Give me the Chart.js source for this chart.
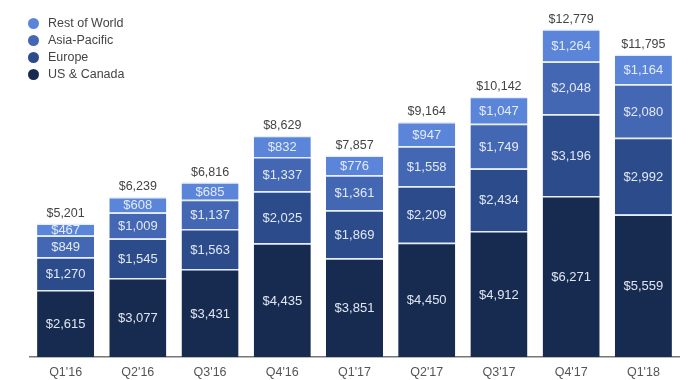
<!DOCTYPE html>
<html>
<head>
<meta charset="utf-8">
<script src="https://cdn.jsdelivr.net/npm/chart.js@4"></script>
<style>
html,body{margin:0;padding:0;background:#fff;}
#wrap{position:relative;width:700px;height:380px;}
#legend{position:absolute;left:28px;top:15px;font-family:"Liberation Sans",Arial,sans-serif;font-size:12.5px;color:#444;}
#legend div{height:17px;line-height:17px;display:flex;align-items:center;}
#legend span.dot{display:inline-block;width:11px;height:11px;border-radius:50%;margin-right:9px;}
</style>
</head>
<body>
<div id="wrap">
<canvas id="c" width="700" height="380"></canvas>
<div id="legend"></div>
</div>
<script>
const categories = ["Q1'16","Q2'16","Q3'16","Q4'16","Q1'17","Q2'17","Q3'17","Q4'17","Q1'18"];
const usCanada    = [2615, 3077, 3431, 4435, 3851, 4450, 4912, 6271, 5559];
const europe      = [1270, 1545, 1563, 2025, 1869, 2209, 2434, 3196, 2992];
const asiaPacific = [849, 1009, 1137, 1337, 1361, 1558, 1749, 2048, 2080];
const restOfWorld = [467, 608, 685, 832, 776, 947, 1047, 1264, 1164];
const totals      = [5201, 6239, 6816, 8629, 7857, 9164, 10142, 12779, 11795];
const seriesNames = ["US & Canada","Europe","Asia-Pacific","Rest of World"];
const colors = ["#172a50","#2b4b8a","#4467b3","#5b85d9"];

const fmt = v => "$" + v.toLocaleString("en-US");

const seriesData = [usCanada, europe, asiaPacific, restOfWorld];
const datasets = seriesData.map((d,i)=>({
  label: seriesNames[i],
  data: d,
  backgroundColor: colors[i],
  borderColor: "rgba(225,235,250,0.9)",
  borderWidth: {top:1.5,bottom:0,left:0,right:0},
  borderSkipped: false,
  barPercentage: 0.79,
  categoryPercentage: 1.0
}));

const labelPlugin = {
  id: 'labels',
  afterDatasetsDraw(chart){
    const ctx = chart.ctx;
    ctx.save();
    ctx.textAlign = 'center';
    ctx.textBaseline = 'middle';
    ctx.font = '13px "Liberation Sans", Arial, sans-serif';
    ctx.fillStyle = 'rgba(235,240,250,0.95)';
    chart.data.datasets.forEach((ds,di)=>{
      const meta = chart.getDatasetMeta(di);
      meta.data.forEach((bar,i)=>{
        const y = (bar.y + bar.base)/2 + 1;
        ctx.fillText(fmt(ds.data[i]), bar.x, y);
      });
    });
    ctx.fillStyle = '#444';
    ctx.font = '12.5px "Liberation Sans", Arial, sans-serif';
    const top = chart.getDatasetMeta(3);
    const ys = chart.scales.y;
    top.data.forEach((bar,i)=>{
      ctx.fillText(fmt(totals[i]), bar.x, ys.getPixelForValue(totals[i]) - 10);
    });
    ctx.restore();
  }
};

new Chart(document.getElementById('c'), {
  type: 'bar',
  data: { labels: categories, datasets },
  options: {
    responsive: false,
    animation: false,
    layout: { padding: { left: 29.5, right: 20.5, top: 23.5, bottom: 0 } },
    plugins: { legend: { display: false }, tooltip: { enabled: false } },
    scales: {
      x: {
        stacked: true,
        grid: { display: false },
        border: { display: true, color: '#777', width: 1.5 },
        ticks: { color: '#555', font: { family: '"Liberation Sans", Arial, sans-serif', size: 12.5 }, padding: 0 }
      },
      y: {
        stacked: true,
        display: false,
        min: 0,
        max: 13000
      }
    }
  },
  plugins: [labelPlugin]
});

const lg = document.getElementById('legend');
[3,2,1,0].forEach(i=>{
  const d = document.createElement('div');
  d.innerHTML = '<span class="dot" style="background:'+colors[i]+'"></span>' + seriesNames[i];
  lg.appendChild(d);
});
</script>
</body>
</html>
